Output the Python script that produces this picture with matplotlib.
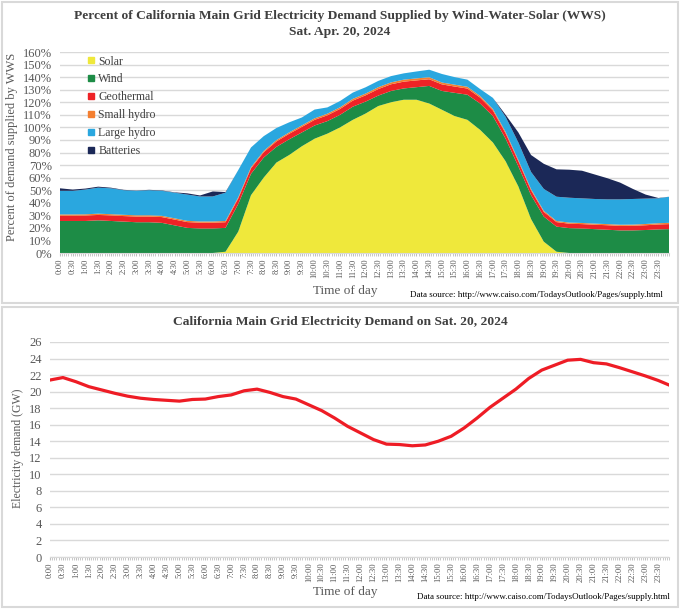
import numpy as np
import matplotlib
matplotlib.use('Agg')
import matplotlib.pyplot as plt
from matplotlib.patches import Rectangle
from matplotlib.lines import Line2D

plt.rcParams['font.family'] = ['Liberation Serif', 'DejaVu Serif']

# half-hour readings, last point is 23:55
hours = list(np.arange(0, 24, 0.5)) + [23 + 55 / 60]
tick_pos = np.arange(0, 24, 0.5)
tick_labels = ['%d:%02d' % (int(h), int(round((h % 1) * 60))) for h in tick_pos]

# percent of demand
solar = [0, 0, 0, 0, 0, 0, 0, 0, 0, 0, 0, 0, 0,
         1, 17, 46, 60, 72, 78, 85, 91, 95, 100, 106, 111, 117, 120, 122, 122,
         119, 114, 109, 106, 98, 88, 73, 53, 27, 9, 1,
         0, 0, 0, 0, 0, 0, 0, 0, 0]
wind = [25.5, 25.5, 25.5, 26, 25.5, 25, 24.5, 24.5, 24, 22, 20, 19.5, 19.5, 19,
        22, 17, 16, 12.5, 12.5, 11, 10.5, 10, 10, 10.5, 9.5,
        8.3, 9, 9, 10, 14, 15, 18.5, 20, 21,
        21, 18, 16, 19, 20, 20, 19.8, 19.5, 19, 18.5, 18, 18, 18.3, 18.8, 19]
geothermal = [4.2, 4.2, 4.3, 4.3, 4.4, 4.4, 4.5, 4.5, 4.6,
              4.6, 4.6, 4.6, 4.6, 4.5,
              4.4, 4.3, 4.2, 4.3, 4.4, 4.4,
              4.5, 4.6, 4.7, 4.8,
              5.0, 5.2, 5.3, 5.4, 5.4, 5.3, 5.2, 5.0, 4.9, 4.7,
              4.5, 4.3, 4.1, 3.9, 3.7, 3.6, 3.5, 3.5, 3.5, 3.6, 3.6, 3.7, 3.8, 3.9, 4.0]
small_hydro = [1.0] * 14 + \
              [1.0, 1.0, 1.0, 1.1, 1.1, 1.2, 1.2, 1.3, 1.3, 1.4, 1.4,
               1.5, 1.5, 1.6, 1.6, 1.6, 1.5, 1.5, 1.4, 1.3,
               1.2, 1.1, 1.0, 1.0, 0.9, 0.9, 0.9, 0.9, 0.9, 0.9, 0.9, 0.9, 1.0, 1.0, 1.0]
large_hydro = [18.8, 18.8, 19.7, 20.7, 20.6, 19.6, 19.5, 20.0, 19.9, 20.4, 20.9, 19.9, 19.9, 22.5,
               21.6, 15.7, 11.8, 9.6, 8.0, 6.3, 7.0, 5.0, 5.0, 5.0, 5.0,
               5.0, 5.0, 5.0, 5.5, 6.0, 6.8, 6.0, 5.7, 5.5,
               8.8, 12.0, 13.9, 13.6, 17.4, 19.3, 19.8, 19.6, 19.6, 19.7, 20.2, 20.4, 20.2, 19.8, 20.8]
batteries = [2.0, 1.0, 0.8, 0.8, 0.5, 0.3, 0.2, 0.3, 0.3, 0.3, 1.0, 0.8, 4.0, 0.5] + [0] * 20 + \
            [0, 1.6, 8, 13.5, 20, 21.8, 22.3, 22, 19.5, 16.8, 13.3, 8, 3.2, 0.3, 0]

# GW
demand = [21.4, 21.7, 21.2, 20.6, 20.2, 19.8, 19.45, 19.2, 19.05, 18.95,
          18.85, 19.05, 19.1, 19.4, 19.6, 20.1, 20.3, 19.9, 19.4, 19.1,
          18.4, 17.7, 16.8, 15.8, 15.0, 14.2, 13.65, 13.6, 13.45, 13.55,
          14.0, 14.6, 15.6, 16.8, 18.1, 19.2, 20.3, 21.6, 22.6, 23.2,
          23.8, 23.9, 23.5, 23.35, 22.9, 22.4, 21.9, 21.35, 20.8]

names = ['Solar', 'Wind', 'Geothermal', 'Small hydro', 'Large hydro', 'Batteries']
colors = ['#EFE83B', '#1D8C46', '#EE2226', '#F47F30', '#2AA7DF', '#1B2857']

W, H = 680, 609
fig = plt.figure(figsize=(W / 100, H / 100), dpi=100)
grey = '#595959'
gridc = '#D9D9D9'

# panel frames
fig.add_artist(Rectangle((2 / W, 1 - 303 / H), 676 / W, 301 / H, transform=fig.transFigure,
                         fill=False, ec=gridc, lw=1.5))
fig.add_artist(Rectangle((2 / W, 1 - 607 / H), 676 / W, 300 / H, transform=fig.transFigure,
                         fill=False, ec=gridc, lw=1.5))


def style(ax):
    for s in ['top', 'right', 'left']:
        ax.spines[s].set_visible(False)
    ax.spines['bottom'].set_color(gridc)
    ax.grid(axis='y', color=gridc, lw=1)
    ax.set_axisbelow(True)
    ax.set_xlim(0, hours[-1])
    ax.set_xticks(tick_pos)
    ax.set_xticklabels(tick_labels, rotation=90, fontsize=6.2, color=grey)
    ax.set_xticks(np.arange(0, 24, 1 / 12), minor=True)
    ax.tick_params(axis='x', which='both', color='#BFBFBF', length=2, pad=2)
    ax.tick_params(axis='y', length=0, labelsize=9, labelcolor=grey, pad=6)


# top chart
ax1 = fig.add_axes([60 / W, 1 - 253 / H, 609 / W, 201 / H])
ax1.stackplot(hours, solar, wind, geothermal, small_hydro, large_hydro, batteries,
              colors=colors, lw=0)
ax1.set_ylim(0, 160)
ax1.set_yticks(range(0, 161, 10))
ax1.set_yticklabels(['%d%%' % v for v in range(0, 161, 10)])
style(ax1)
handles = [Line2D([], [], marker='s', ls='', color=c, markersize=5) for c in colors]
ax1.legend(handles, names, loc='upper left', bbox_to_anchor=(0.028, 1.035), frameon=False,
           fontsize=8.5, labelspacing=0.5, handlelength=0.6, handletextpad=0.3,
           labelcolor='#404040')

fig.text(340 / W, 1 - 16 / H, 'Percent of California Main Grid Electricity Demand Supplied by Wind-Water-Solar (WWS)',
         ha='center', va='center', fontsize=9.7, weight='bold', color='#404040')
fig.text(340 / W, 1 - 32 / H, 'Sat. Apr. 20, 2024', ha='center', va='center',
         fontsize=9.7, weight='bold', color='#404040')
fig.text(12 / W, 1 - 147 / H, 'Percent of demand supplied by WWS', rotation=90,
         ha='center', va='center', fontsize=9, color=grey)
fig.text(345 / W, 1 - 291 / H, 'Time of day', ha='center', va='center', fontsize=9.5, color=grey)
fig.text(663 / W, 1 - 295 / H, 'Data source: http://www.caiso.com/TodaysOutlook/Pages/supply.html',
         ha='right', va='center', fontsize=6.5, color='black')

# bottom chart
ax2 = fig.add_axes([50 / W, 1 - 557 / H, 619 / W, 215 / H])
ax2.plot(hours, demand, color='#EE1C25', lw=2.3)
ax2.set_ylim(0, 26)
ax2.set_yticks(range(0, 27, 2))
style(ax2)

fig.text(340 / W, 1 - 322 / H, 'California Main Grid Electricity Demand on Sat. 20, 2024',
         ha='center', va='center', fontsize=9.7, weight='bold', color='#404040')
fig.text(18 / W, 1 - 448 / H, 'Electricity demand (GW)', rotation=90,
         ha='center', va='center', fontsize=8.5, color=grey)
fig.text(345 / W, 1 - 592 / H, 'Time of day', ha='center', va='center', fontsize=9.5, color=grey)
fig.text(670 / W, 1 - 597 / H, 'Data source: http://www.caiso.com/TodaysOutlook/Pages/supply.html',
         ha='right', va='center', fontsize=6.5, color='black')

fig.savefig('out.png', dpi=100)
